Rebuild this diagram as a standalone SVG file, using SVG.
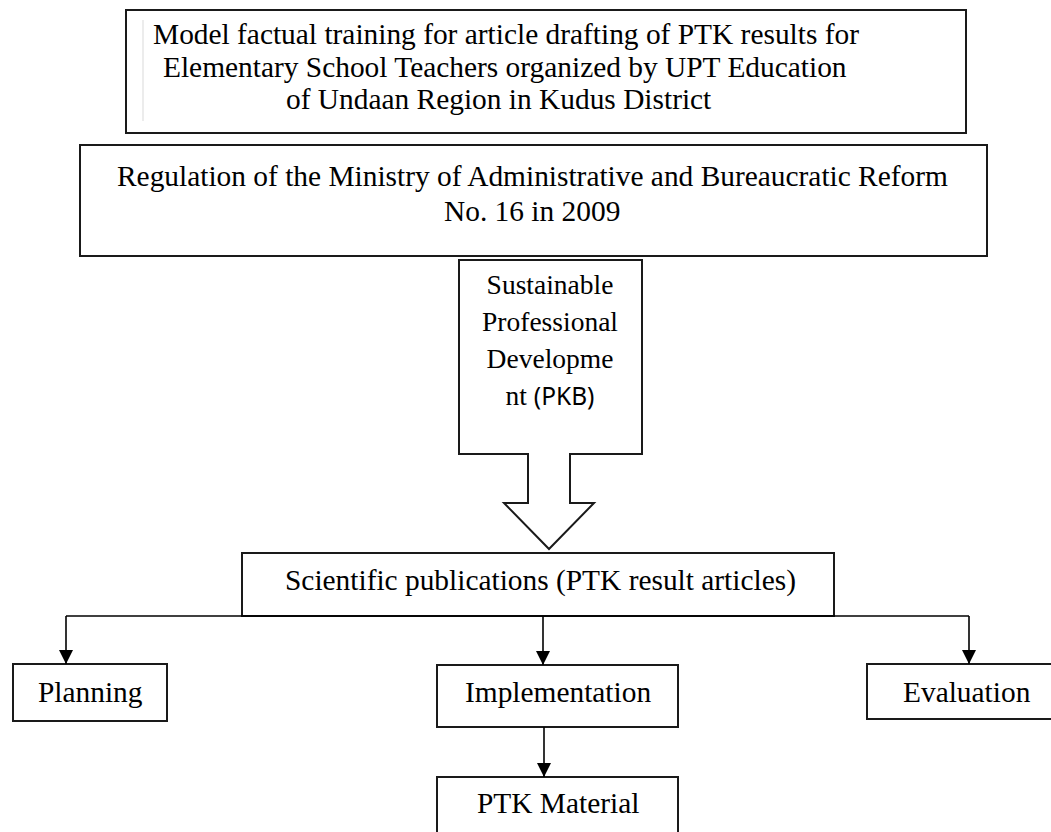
<svg xmlns="http://www.w3.org/2000/svg" width="1051" height="832" viewBox="0 0 1051 832">
  <style>
    .box { fill: #ffffff; stroke: #1a1a1a; stroke-width: 2; }
    .t { font-family: "Liberation Serif", "Times New Roman", serif; font-size: 29.4px; fill: #000; }
    .tp { font-family: "Liberation Serif", "Times New Roman", serif; font-size: 27.5px; fill: #000; text-anchor: middle; }
    .sans { font-family: "Noto Sans", "Liberation Sans", sans-serif; font-size: 24.5px; }
    .conn { fill: none; stroke: #000; stroke-width: 1.6; }
  </style>
  <defs>
    <marker id="arrow" markerUnits="userSpaceOnUse" markerWidth="14" markerHeight="14" refX="14" refY="7" orient="auto">
      <path d="M0,0 L14,7 L0,14 Z" fill="#000"/>
    </marker>
  </defs>
  <rect width="1051" height="832" fill="#ffffff"/>

  <g id="node-title">
    <rect class="box" x="126" y="10" width="840" height="123"/>
    <line x1="143" y1="20" x2="143" y2="121" stroke="#e6e6e6" stroke-width="1.5"/>
    <text class="t" x="153" y="44">Model factual training for article drafting of PTK results for</text>
    <text class="t" x="163" y="77">Elementary School Teachers organized by UPT Education</text>
    <text class="t" x="286" y="109">of Undaan Region in Kudus District</text>
  </g>

  <g id="node-regulation">
    <rect class="box" x="80" y="145" width="907" height="111"/>
    <text class="t" x="117" y="186">Regulation of the Ministry of Administrative and Bureaucratic Reform</text>
    <text class="t" x="444" y="221">No. 16 in 2009</text>
  </g>

  <g id="node-pkb">
    <path class="box" d="M459,260 H642 V454 H570 V503 H594 L549,549 L504,503 H528 V454 H459 Z"/>
    <text class="tp" x="550" y="294">Sustainable</text>
    <text class="tp" x="550" y="331">Professional</text>
    <text class="tp" x="550" y="368">Developme</text>
    <text class="tp" x="550" y="405">nt <tspan class="sans">(PKB)</tspan></text>
  </g>

  <g id="node-scientific">
    <rect class="box" x="242" y="553" width="592" height="63"/>
    <text class="t" x="285" y="590">Scientific publications (PTK result articles)</text>
  </g>

  <g id="node-planning">
    <rect class="box" x="13" y="664" width="154" height="57"/>
    <text class="t" x="38" y="702">Planning</text>
  </g>

  <g id="node-implementation">
    <rect class="box" x="437" y="665" width="241" height="62"/>
    <text class="t" x="465" y="702">Implementation</text>
  </g>

  <g id="node-evaluation">
    <rect class="box" x="867" y="664" width="190" height="55"/>
    <text class="t" x="903" y="702">Evaluation</text>
  </g>

  <g id="node-ptk-material">
    <rect class="box" x="437" y="777" width="241" height="70"/>
    <text class="t" x="477" y="813">PTK Material</text>
  </g>

  <g id="connectors">
    <path class="conn" d="M66,616 H969"/>
    <path class="conn" d="M66,616 V664" marker-end="url(#arrow)"/>
    <path class="conn" d="M543,616 V665" marker-end="url(#arrow)"/>
    <path class="conn" d="M969,616 V664" marker-end="url(#arrow)"/>
    <path class="conn" d="M544,727 V777" marker-end="url(#arrow)"/>
  </g>
</svg>
